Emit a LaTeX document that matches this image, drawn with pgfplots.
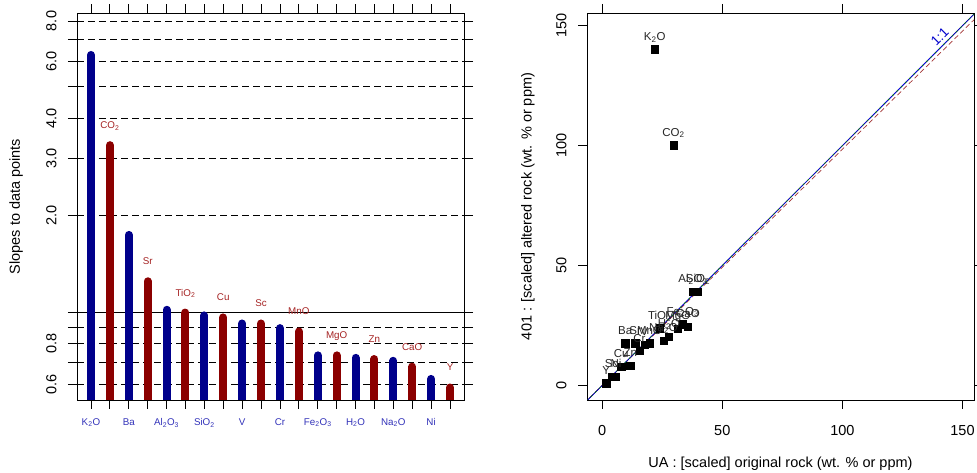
\documentclass[border=0pt]{standalone}
\usepackage{fontspec}
\setmainfont{Liberation Sans}
\usepackage{pgfplots}
\pgfplotsset{compat=1.18}
\definecolor{dblue}{RGB}{0,0,139}
\definecolor{dred}{RGB}{139,0,0}
\definecolor{lblue}{RGB}{50,50,185}
\definecolor{lred}{RGB}{165,35,35}
\newcommand{\s}[1]{\textsubscript{#1}}
\begin{document}
\begin{tikzpicture}[x=1pt,y=1pt]
\path[use as bounding box] (0,0) rectangle (977,473);
\pgfplotsset{
  every axis/.append style={scale only axis, width=387pt, height=387pt,
    tick align=outside, major tick length=9pt,
    axis line style={line width=0.9pt},
    every tick/.style={black, line width=0.8pt},
    font=\fontsize{14.5}{16}\selectfont,
    /pgf/number format/assume math mode=true},
}
% ---------------- left: slopes ----------------
\begin{axis}[at={(77pt,73pt)}, anchor=south west,
  ymode=log, ymin=0.536, ymax=8.47, xmin=0.26, xmax=20.74,
  log origin y=infty,
  ytick={0.6,0.7,0.8,0.9,2,3,4,5,6,7,8},
  yticklabels={0.6,,0.8,,2.0,3.0,4.0,,6.0,,8.0},
  extra y ticks={1}, extra y tick labels={},
  extra y tick style={ymajorgrids, major grid style={solid, black, line width=1pt}},
  ymajorgrids, major grid style={black, line width=0.9pt, dash pattern=on 7pt off 4pt},
  xtick={1,...,20},
  xticklabels={K\s{2}O,,Ba,,Al\s{2}O\s{3},,SiO\s{2},,V,,Cr,,Fe\s{2}O\s{3},,H\s{2}O,,Na\s{2}O,,Ni,},
  xticklabel style={font=\fontsize{9.8}{11}\selectfont, text=lblue},
  xticklabel shift=6pt,
  yticklabel style={rotate=90, anchor=south},
  yticklabel shift=8pt,
  ylabel={Slopes to data points},
  every axis y label/.style={at={(axis description cs:-0.1576,0.5)}, rotate=90, anchor=center},
]
\addplot[ycomb, dblue, line width=8pt, line cap=round] coordinates {
  (1,6.28) (3,1.74) (5,1.02) (7,0.98) (9,0.925) (11,0.895) (13,0.737) (15,0.724) (17,0.709) (19,0.623)};
\addplot[ycomb, dred, line width=8pt, line cap=round,
  point meta=explicit symbolic, nodes near coords,
  every node near coord/.style={anchor=base, yshift=16.5pt, font=\fontsize{9.8}{11}\selectfont, text=lred, inner sep=0pt}]
  coordinates {
  (2,3.30) [CO\s{2}]
  (4,1.25) [Sr]
  (6,1.00) [TiO\s{2}]
  (8,0.966) [Cu]
  (10,0.925) [Sc]
  (12,0.874) [MnO]
  (14,0.737) [MgO]
  (16,0.718) [Zn]
  (18,0.680) [CaO]
  (20,0.586) [Y]
  };
\end{axis}
% ---------------- right: scatter ----------------
\begin{axis}[at={(587pt,73pt)}, anchor=south west,
  xmin=-6.3, xmax=154.8, ymin=-6, ymax=155.3,
  xtick={0,50,100,150}, ytick={0,50,100,150},
  xticklabel shift=13pt,
  yticklabel style={rotate=90, anchor=south},
  yticklabel shift=8pt,
  xlabel={UA : [scaled] original rock (wt. \% or ppm)},
  ylabel={401 : [scaled] altered rock (wt. \% or ppm)},
  every axis x label/.style={at={(axis description cs:0.5,-0.1655)}, anchor=center},
  every axis y label/.style={at={(axis description cs:-0.1525,0.5)}, rotate=90, anchor=center},
]
\addplot[dred!80, dash pattern=on 5pt off 3pt, line width=0.7pt] coordinates {(-10,-9.85) (160,157.6)};
\addplot[black, line width=0.7pt] coordinates {(-10,-10) (160,160)};
\addplot[blue, line width=0.6pt] coordinates {(-10,-10) (160,160)};
\addplot[green!50!black, dash pattern=on 2pt off 4pt, line width=0.6pt] coordinates {(-10,-10) (160,160)};
\addplot[only marks, mark=square*, mark size=3.6pt, black, mark options={draw=black, fill=black},
  point meta=explicit symbolic, nodes near coords,
  every node near coord/.style={anchor=base, yshift=9pt, font=\fontsize{11.5}{13}\selectfont, text=black!85, inner sep=0pt}]
  coordinates {
  (21.9,140.2) [K\s{2}O]
  (29.7,100.2) [CO\s{2}]
  (9.6,17.7) [Ba]
  (13.75,17.7) [Sr]
  (37.8,39.2) [Al\s{2}O\s{3}]
  (23.9,23.9) [TiO\s{2}]
  (39.9,39.2) [SiO\s{2}]
  (7.9,7.9) [Cu]
  (17.6,17.0) [V]
  (3.9,3.75) [Sc]
  (15.5,14.4) [Cr]
  (19.7,17.7) [MnO]
  (33.6,25.6) [Fe\s{2}O\s{3}]
  (31.5,23.6) [MgO]
  (27.8,20.4) [H\s{2}O]
  (11.7,8.3) [Zn]
  (25.5,18.6) [Na\s{2}O]
  (35.7,24.6) [CaO]
  (5.8,3.75) [Ni]
  (1.7,1.0) [Y]
  };
\node[rotate=45, text=blue!80!black, font=\fontsize{13.5}{15}\selectfont] at (axis cs:140.5,145.5) {1:1};
\end{axis}
\end{tikzpicture}
\end{document}
